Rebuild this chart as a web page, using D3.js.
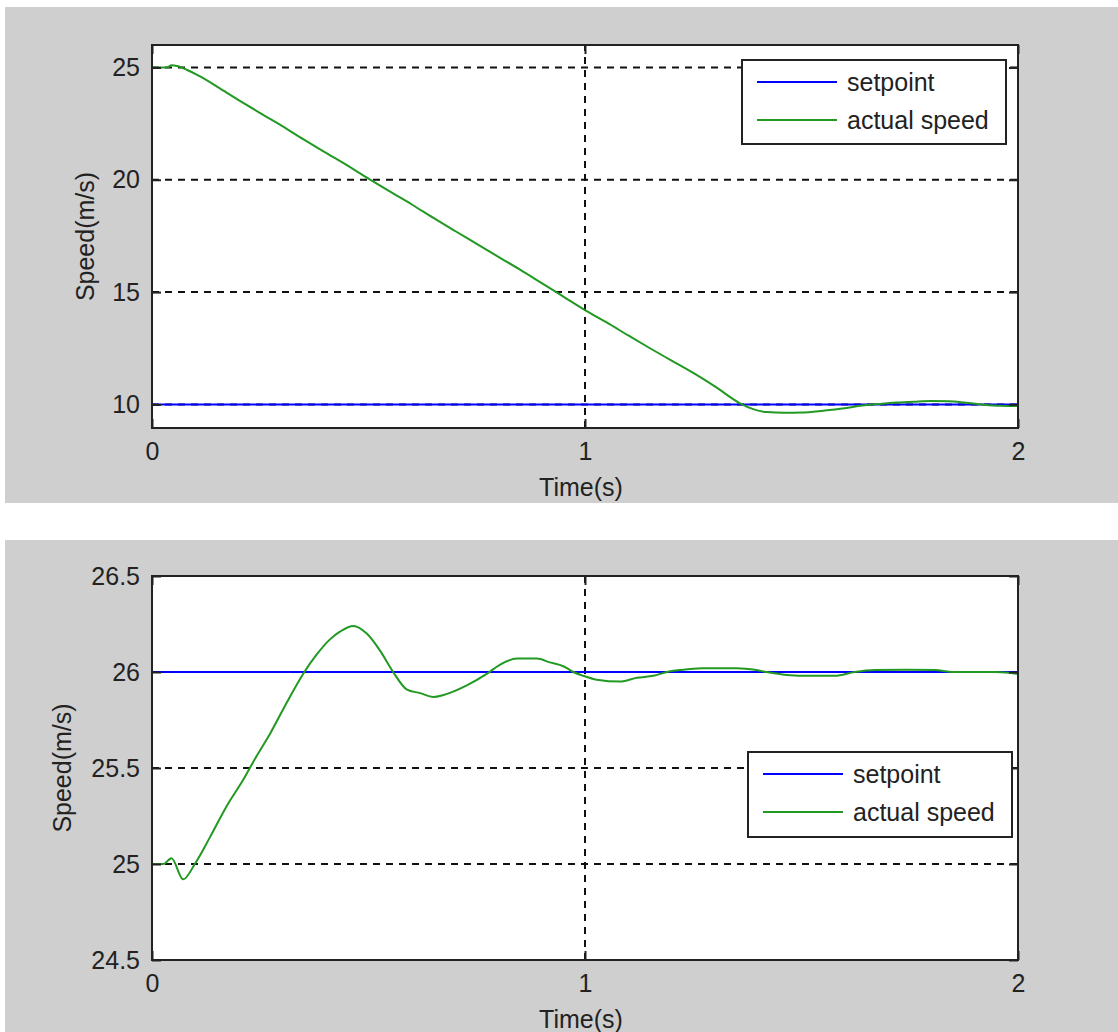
<!DOCTYPE html>
<html lang="en">
<head>
    <meta charset="UTF-8">
    <title>Speed response</title>
    <style type="text/css">
        body {
            margin: 0;
            background: #fff;
        }
        svg {
            display: block;
        }
        text {
            font-family: "Liberation Sans", Arial, sans-serif;
            font-size: 25px;
            fill: #222;
        }
        .tick text {
            font-size: 25px;
            fill: #222;
        }
    </style>
</head>
<body>
    <div id="chart"></div>
    <script src="https://cdnjs.cloudflare.com/ajax/libs/d3/7.8.5/d3.min.js"></script>
    <script type="text/javascript">
        // ---- data ----
        var timeTop = [0, 0.035, 0.045, 0.06, 0.08, 0.111, 0.15, 0.2, 0.25, 0.3, 0.35, 0.4, 0.45,
            0.5, 0.55, 0.6, 0.65, 0.7, 0.75, 0.8, 0.85, 0.9, 0.95, 1.0, 1.05, 1.1, 1.15, 1.2, 1.25,
            1.3, 1.358, 1.39, 1.42, 1.46, 1.5, 1.55, 1.6, 1.64, 1.68, 1.72, 1.76, 1.8, 1.84, 1.88,
            1.92, 1.96, 2.0];
        var speedTop = [25, 25, 25.1, 25.05, 24.9, 24.6, 24.15, 23.55, 22.97, 22.4, 21.8, 21.22, 20.65,
            20.05, 19.47, 18.9, 18.3, 17.72, 17.15, 16.57, 16.0, 15.4, 14.8, 14.2, 13.65, 13.07, 12.5,
            11.95, 11.4, 10.8, 10.05, 9.78, 9.66, 9.63, 9.64, 9.72, 9.83, 9.95, 10.02, 10.08, 10.12,
            10.15, 10.14, 10.07, 9.99, 9.94, 9.93];
        var setpointTop = 10;

        var timeBottom = [0, 0.026, 0.045, 0.072, 0.099, 0.134, 0.172, 0.211, 0.241, 0.273, 0.311,
            0.349, 0.380, 0.411, 0.434, 0.465, 0.496, 0.527, 0.557, 0.588, 0.619, 0.650, 0.673, 0.727,
            0.773, 0.805, 0.843, 0.889, 0.919, 0.950, 0.973, 0.996, 1.027, 1.081, 1.12, 1.158, 1.189,
            1.219, 1.27, 1.35, 1.396, 1.419, 1.466, 1.52, 1.577, 1.623, 1.670, 1.74, 1.808, 1.850,
            1.889, 1.95, 2.0];
        var speedBottom = [25.0, 25.0, 25.03, 24.92, 25.0, 25.14, 25.30, 25.44, 25.56, 25.68, 25.84,
            25.99, 26.09, 26.17, 26.21, 26.24, 26.2, 26.11, 26.0, 25.91, 25.89, 25.87, 25.88, 25.93,
            25.99, 26.04, 26.07, 26.07, 26.05, 26.03, 26.0, 25.98, 25.96, 25.95, 25.97, 25.98, 26.0,
            26.01, 26.02, 26.02, 26.01, 26.0, 25.985, 25.98, 25.98, 26.0, 26.01, 26.012, 26.01, 26.0,
            26.0, 26.0, 25.99];
        var setpointBottom = 26;

        var xTicks = [0, 1, 2];
        var yTicksTop = [10, 15, 20, 25];
        var yTicksBottom = [24.5, 25, 25.5, 26, 26.5];
        var legendNames = ["setpoint", "actual speed"];

        var width = 1118, height = 1032;
        var blue = "#0000ff", green = "#229922", ink = "#222";

        var svg = d3.select("#chart").append("svg")
            .attr("width", width)
            .attr("height", height);

        drawPanel({
            bg: [5, 7, 1113, 496],
            box: { left: 152, right: 1018, top: 45, bottom: 428 },
            yDomain: [8.95, 26],
            yTicks: yTicksTop,
            time: timeTop, speed: speedTop, setpoint: setpointTop,
            yLabelX: 85,
            legend: { x: 742, y: 60, w: 264, h: 84 }
        });

        drawPanel({
            bg: [5, 540, 1113, 492],
            box: { left: 152, right: 1018, top: 576, bottom: 960 },
            yDomain: [24.5, 26.5],
            yTicks: yTicksBottom,
            time: timeBottom, speed: speedBottom, setpoint: setpointBottom,
            yLabelX: 62,
            legend: { x: 748, y: 752, w: 264, h: 85 }
        });

        function drawPanel(cfg) {
            var b = cfg.box;
            var g = svg.append("g");

            g.append("rect")
                .attr("x", cfg.bg[0]).attr("y", cfg.bg[1])
                .attr("width", cfg.bg[2]).attr("height", cfg.bg[3])
                .attr("fill", "#cfcfcf");

            g.append("rect")
                .attr("x", b.left).attr("y", b.top)
                .attr("width", b.right - b.left).attr("height", b.bottom - b.top)
                .attr("fill", "#fff");

            var x = d3.scaleLinear().domain([0, 2]).range([b.left, b.right]);
            var y = d3.scaleLinear().domain(cfg.yDomain).range([b.bottom, b.top]);

            // dashed grid
            var grid = g.append("g")
                .attr("stroke", "#111")
                .attr("stroke-width", 2)
                .attr("stroke-dasharray", "7,6");
            grid.selectAll(".gx").data(xTicks).enter().append("line")
                .attr("x1", d => x(d)).attr("x2", d => x(d))
                .attr("y1", b.bottom).attr("y2", b.top);
            grid.selectAll(".gy").data(cfg.yTicks).enter().append("line")
                .attr("x1", b.left).attr("x2", b.right)
                .attr("y1", d => y(d)).attr("y2", d => y(d));

            // lines
            var line = d3.line()
                .x(d => x(d[0]))
                .y(d => y(d[1]))
                .curve(d3.curveMonotoneX);

            g.append("path")
                .datum([[0, cfg.setpoint], [2, cfg.setpoint]])
                .attr("d", line)
                .attr("fill", "none")
                .attr("stroke", blue)
                .attr("stroke-width", 2);

            g.append("path")
                .datum(cfg.time.map((t, i) => [t, cfg.speed[i]]))
                .attr("d", line)
                .attr("fill", "none")
                .attr("stroke", green)
                .attr("stroke-width", 2);

            // axes with inside ticks on all four sides
            var fmt = d3.format("");
            var axB = g.append("g").attr("transform", `translate(0,${b.bottom})`)
                .call(d3.axisBottom(x).tickValues(xTicks).tickFormat(fmt)
                    .tickSizeInner(-9).tickSizeOuter(0).tickPadding(14));
            var axL = g.append("g").attr("transform", `translate(${b.left},0)`)
                .call(d3.axisLeft(y).tickValues(cfg.yTicks).tickFormat(fmt)
                    .tickSizeInner(-9).tickSizeOuter(0).tickPadding(12));
            var axT = g.append("g").attr("transform", `translate(0,${b.top})`)
                .call(d3.axisTop(x).tickValues(xTicks).tickFormat("")
                    .tickSizeInner(-9).tickSizeOuter(0));
            var axR = g.append("g").attr("transform", `translate(${b.right},0)`)
                .call(d3.axisRight(y).tickValues(cfg.yTicks).tickFormat("")
                    .tickSizeInner(-9).tickSizeOuter(0));

            [axB, axL, axT, axR].forEach(a => {
                a.select(".domain").remove();
                a.selectAll(".tick line").attr("stroke", ink).attr("stroke-width", 2);
                a.selectAll(".tick text").attr("fill", ink).attr("font-family", null).attr("font-size", null);
            });

            // frame
            g.append("rect")
                .attr("x", b.left).attr("y", b.top)
                .attr("width", b.right - b.left).attr("height", b.bottom - b.top)
                .attr("fill", "none")
                .attr("stroke", ink)
                .attr("stroke-width", 2);

            // axis labels
            g.append("text")
                .attr("x", (b.left + b.right) / 2 - 4)
                .attr("y", b.bottom + 59)
                .attr("dy", "0.35em")
                .attr("text-anchor", "middle")
                .text("Time(s)");

            g.append("text")
                .attr("transform", `translate(${cfg.yLabelX},${(b.top + b.bottom) / 2}) rotate(-90)`)
                .attr("dy", "0.35em")
                .attr("text-anchor", "middle")
                .text("Speed(m/s)");

            // legend
            var lg = cfg.legend;
            var leg = g.append("g").attr("transform", `translate(${lg.x},${lg.y})`);
            leg.append("rect")
                .attr("width", lg.w).attr("height", lg.h)
                .attr("fill", "#fff")
                .attr("stroke", ink)
                .attr("stroke-width", 2);
            var item = leg.selectAll(".item").data(legendNames).enter().append("g")
                .attr("transform", (d, i) => `translate(0,${22 + i * 38})`);
            item.append("line")
                .attr("x1", 15).attr("x2", 95)
                .attr("stroke", (d, i) => i === 0 ? blue : green)
                .attr("stroke-width", 2);
            item.append("text")
                .attr("x", 105)
                .attr("dy", "0.35em")
                .text(d => d);
        }
    </script>
</body>
</html>
